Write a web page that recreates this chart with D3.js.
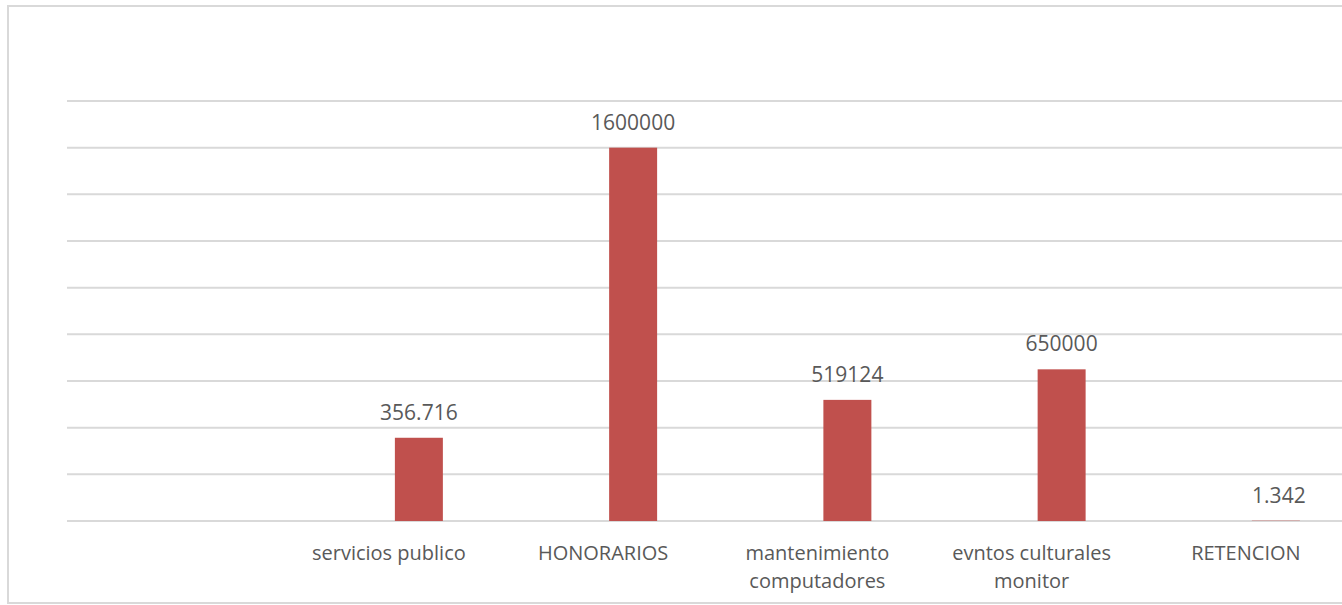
<!DOCTYPE html>
<html>
<head>
<meta charset="utf-8">
<script src="https://cdn.jsdelivr.net/npm/d3@7"></script>
<style>
  body { margin: 0; background: #fff; }
  text { font-family: "Open Sans", "Liberation Sans", sans-serif; fill: #595959; }
</style>
</head>
<body>
<div id="chart"></div>
<script>
// Plot constants
const WIDTH = 1342;
const HEIGHT = 605;

// datos
const categories = ["", "servicios publico", "HONORARIOS", "mantenimiento computadores", "evntos culturales monitor", "RETENCION"];
const values = [null, 356716, 1600000, 519124, 650000, 1342];
const valueLabels = ["", "356.716", "1600000", "519124", "650000", "1.342"];
const yTicks = [0, 200000, 400000, 600000, 800000, 1000000, 1200000, 1400000, 1600000, 1800000];

// lineas de las etiquetas del eje x
const catLines = [[], ["servicios publico"], ["HONORARIOS"], ["mantenimiento", "computadores"], ["evntos culturales", "monitor"], ["RETENCION"]];

const svg = d3.select("#chart")
  .append("svg")
  .attr("width", WIDTH)
  .attr("height", HEIGHT);

// marco del grafico
svg.append("rect")
  .attr("x", 8).attr("y", 6)
  .attr("width", 1400).attr("height", 597)
  .attr("fill", "none")
  .attr("stroke", "#d9d9d9")
  .attr("stroke-width", 2);

const x = d3.scaleBand()
  .domain(categories)
  .range([97.5, 1383])
  .paddingInner(0.776)
  .paddingOuter(0.388);

const y = d3.scaleLinear()
  .domain([0, 1800000])
  .range([521, 101]);

// lineas de cuadricula
svg.append("g")
  .selectAll("line")
  .data(yTicks)
  .join("line")
  .attr("x1", 67)
  .attr("x2", WIDTH)
  .attr("y1", d => y(d))
  .attr("y2", d => y(d))
  .attr("stroke", "#d9d9d9")
  .attr("stroke-width", 2);

const data = categories.map((c, i) => ({cat: c, v: values[i], label: valueLabels[i], lines: catLines[i]}))
  .filter(d => d.v !== null);

// barras
svg.append("g")
  .selectAll("rect")
  .data(data)
  .join("rect")
  .attr("x", d => x(d.cat))
  .attr("width", x.bandwidth())
  .attr("y", d => y(d.v))
  .attr("height", d => y(0) - y(d.v))
  .attr("fill", "#c0504d");

// etiquetas de valores
svg.append("g")
  .selectAll("text")
  .data(data)
  .join("text")
  .attr("x", d => x(d.cat) + x.bandwidth() / 2 + (d.cat === "RETENCION" ? 3 : 0))
  .attr("y", d => y(d.v) - 18)
  .attr("text-anchor", "middle")
  .attr("font-size", "21px")
  .text(d => d.label);

// etiquetas del eje x (desplazadas a la izquierda como en el original)
const xl = svg.append("g")
  .selectAll("text")
  .data(data)
  .join("text")
  .attr("x", d => x(d.cat) + x.bandwidth() / 2 - 30)
  .attr("y", 560)
  .attr("text-anchor", "middle")
  .attr("font-size", "20px");

xl.selectAll("tspan")
  .data(d => d.lines.map(l => ({l, x: x(d.cat) + x.bandwidth() / 2 - 30})))
  .join("tspan")
  .attr("x", d => d.x)
  .attr("dy", (d, i) => i === 0 ? 0 : 28)
  .text(d => d.l);
</script>
</body>
</html>
